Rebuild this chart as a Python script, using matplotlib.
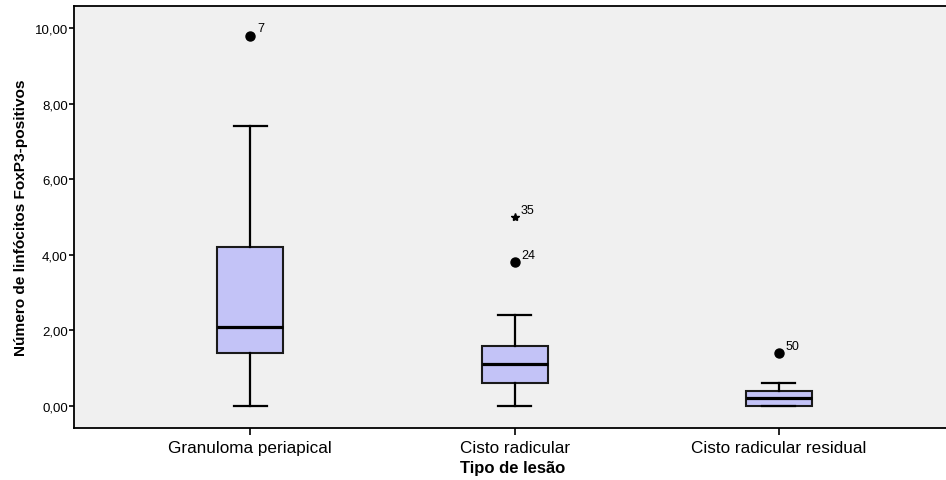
import matplotlib.pyplot as plt
from matplotlib.ticker import FuncFormatter

plt.rcParams['font.family'] = ['Liberation Sans', 'DejaVu Sans']

# -------------------
# Data (box summaries per lesion type)
# -------------------
categories = ["Granuloma periapical", "Cisto radicular", "Cisto radicular residual"]
whisker_low = [0.0, 0.0, 0.0]
q1 = [1.4, 0.6, 0.0]
median = [2.1, 1.1, 0.2]
q3 = [4.2, 1.6, 0.4]
whisker_high = [7.4, 2.4, 0.6]

# outliers (circles) and extremes (stars), with case numbers
outlier_vals = [[9.8], [3.8], [1.4]]
outlier_ids = [["7"], ["24"], ["50"]]
extreme_vals = [[], [5.0], []]
extreme_ids = [[], ["35"], []]

stats = []
for i, name in enumerate(categories):
    stats.append({
        "label": name,
        "whislo": whisker_low[i],
        "q1": q1[i],
        "med": median[i],
        "q3": q3[i],
        "whishi": whisker_high[i],
        "fliers": outlier_vals[i],
    })

fig = plt.figure(figsize=(9.46, 4.81), dpi=100)
ax = fig.add_axes([73.5 / 946, 1 - 428.5 / 481, (952 - 73.5) / 946, (428.5 - 6.5) / 481])
ax.set_facecolor("#F0F0F0")

positions = list(range(len(categories)))
ax.bxp(
    stats, positions=positions, widths=0.25, patch_artist=True,
    boxprops=dict(facecolor="#C3C3F7", edgecolor="#1a1a1a", linewidth=1.5),
    medianprops=dict(color="black", linewidth=2.3),
    whiskerprops=dict(color="black", linewidth=1.6),
    capprops=dict(color="black", linewidth=1.6),
    capwidths=0.125,
    flierprops=dict(marker="o", markerfacecolor="black", markeredgecolor="black", markersize=6.5),
)

for i, pos in enumerate(positions):
    for v, lab in zip(outlier_vals[i], outlier_ids[i]):
        ax.annotate(lab, (pos, v), xytext=(5, 3), textcoords="offset points", fontsize=9)
    for v, lab in zip(extreme_vals[i], extreme_ids[i]):
        ax.plot([pos], [v], marker="*", color="black", markersize=6, linestyle="none")
        ax.annotate(lab, (pos, v), xytext=(4, 3), textcoords="offset points", fontsize=9)

ax.set_xlim(-0.669, 2.655)
ax.set_ylim(-0.569, 10.595)
ax.set_yticks([0, 2, 4, 6, 8, 10])
ax.yaxis.set_major_formatter(FuncFormatter(lambda v, p: f"{v:.2f}".replace(".", ",")))
ax.set_xticks(positions)
ax.set_xticklabels(categories, fontsize=12.3)
ax.tick_params(axis="y", labelsize=9.5, length=3.6, width=1.2, pad=0.5)
ax.tick_params(axis="x", length=5, width=1.2, pad=4)

for side in ["left", "bottom", "top"]:
    ax.spines[side].set_linewidth(1.3)
ax.spines["right"].set_visible(False)

ax.set_ylabel("Número de linfócitos FoxP3-positivos", fontsize=11.1, fontweight="bold", labelpad=4.5)
ax.set_xlabel("Tipo de lesão", fontsize=12, fontweight="bold", labelpad=3.5)

fig.savefig("out.png", dpi=100)
